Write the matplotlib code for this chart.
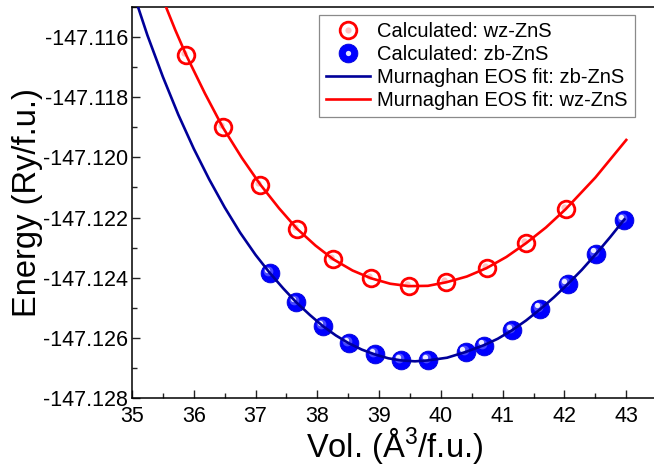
import numpy as np
import matplotlib
matplotlib.use('Agg')
import matplotlib.pyplot as plt
from matplotlib import transforms
from matplotlib.lines import Line2D
from matplotlib.ticker import MultipleLocator, FormatStrFormatter
from matplotlib.legend_handler import HandlerTuple

plt.rcParams['font.family'] = ['Liberation Sans', 'DejaVu Sans']
plt.rcParams['mathtext.fontset'] = 'custom'
plt.rcParams['mathtext.rm'] = 'Liberation Sans'
plt.rcParams['mathtext.it'] = 'Liberation Sans:italic'
plt.rcParams['axes.unicode_minus'] = False

# calculated points
wz_vol = [35.88, 36.47, 37.08, 37.67, 38.26, 38.87, 39.48, 40.09, 40.74, 41.38, 42.02]
wz_E = [-147.11661, -147.11900, -147.12091, -147.12237, -147.12339, -147.12402,
        -147.12428, -147.12415, -147.12368, -147.12285, -147.12172]

zb_vol = [37.23, 37.66, 38.09, 38.51, 38.93, 39.36, 39.79, 40.40, 40.70, 41.15,
          41.60, 42.05, 42.51, 42.97]
zb_E = [-147.12384, -147.12482, -147.12561, -147.12618, -147.12655, -147.12675,
        -147.12675, -147.12647, -147.12626, -147.12573, -147.12503, -147.12421,
        -147.12320, -147.12208]

# Murnaghan EOS fit curves
wz_fit_vol = [35.5, 35.7, 35.88, 36.18, 36.47, 36.78, 37.08, 37.38, 37.67, 37.97,
              38.26, 38.57, 38.87, 39.18, 39.48, 39.79, 40.09, 40.42, 40.74, 41.06,
              41.38, 41.70, 42.02, 42.5, 43.0]
wz_fit_E = [-147.11474, -147.11576, -147.11661, -147.11787, -147.11900, -147.12002,
            -147.12091, -147.12169, -147.12237, -147.12293, -147.12339, -147.12376,
            -147.12402, -147.12420, -147.12428, -147.12427, -147.12415, -147.12396,
            -147.12368, -147.12331, -147.12285, -147.12233, -147.12172, -147.12067,
            -147.11942]

zb_fit_vol = [35.0, 35.25, 35.5, 35.75, 36.0, 36.25, 36.5, 36.75, 37.0, 37.23,
              37.45, 37.66, 37.88, 38.09, 38.30, 38.51, 38.72, 38.93, 39.15, 39.36,
              39.58, 39.79, 40.10, 40.40, 40.70, 40.92, 41.15, 41.38, 41.60, 41.83,
              42.05, 42.28, 42.51, 42.74, 42.97]
zb_fit_E = [-147.11439, -147.11594, -147.11732, -147.11858, -147.11971, -147.12073,
            -147.12166, -147.12250, -147.12324, -147.12384, -147.12436, -147.12482,
            -147.12524, -147.12561, -147.12592, -147.12618, -147.12639, -147.12655,
            -147.12668, -147.12675, -147.12678, -147.12675, -147.12666, -147.12647,
            -147.12624, -147.12603, -147.12575, -147.12542, -147.12506, -147.12465,
            -147.12422, -147.12374, -147.12321, -147.12265, -147.12206]

fig = plt.figure(figsize=(6.54, 4.66), dpi=100)
ax = fig.add_axes([0.2018, 0.1459, 0.803, 0.839])

hl = transforms.offset_copy(ax.transData, fig=fig, x=-2.3, y=2.3, units='points')
hl2 = transforms.offset_copy(ax.transData, fig=fig, x=-1.5, y=1.5, units='points')

# markers
ax.plot(wz_vol, wz_E, ls='none', marker='o', ms=12, mfc='white', mec='#ff0000', mew=2.0, zorder=2)
ax.plot(wz_vol, wz_E, ls='none', marker='o', ms=4.5, mfc='#ffb4b4', mec='none', alpha=0.8,
        transform=hl2, zorder=2.1)
ax.plot(zb_vol, zb_E, ls='none', marker='o', ms=13.5, mfc='#0000ff', mec='#0000d8', mew=0.6, zorder=2)
ax.plot(zb_vol, zb_E, ls='none', marker='o', ms=7, mfc='#7a7aff', mec='none', alpha=0.6,
        transform=hl2, zorder=2.1)
ax.plot(zb_vol, zb_E, ls='none', marker='o', ms=3.8, mfc='white', mec='none', alpha=0.9,
        transform=hl, zorder=2.2)

# fit lines drawn over the markers
ax.plot(zb_fit_vol, zb_fit_E, color='#000099', lw=1.9, zorder=3)
ax.plot(wz_fit_vol, wz_fit_E, color='#ff0000', lw=1.9, zorder=3)

ax.set_xlim(35, 43.5)
ax.set_ylim(-147.128, -147.115)
ax.xaxis.set_major_locator(MultipleLocator(1))
ax.xaxis.set_minor_locator(MultipleLocator(0.5))
ax.yaxis.set_major_locator(MultipleLocator(0.002))
ax.yaxis.set_minor_locator(MultipleLocator(0.001))
ax.yaxis.set_major_formatter(FormatStrFormatter('%.3f'))
ax.tick_params(which='both', direction='in', top=False, right=False, width=1.0, color='#222222')
ax.tick_params(which='major', length=6)
ax.tick_params(which='minor', length=3.5)
ax.tick_params(axis='x', labelsize=15.5, pad=6)
ax.tick_params(axis='y', labelsize=15.5, pad=3)
for s in ax.spines.values():
    s.set_linewidth(1.1)

ax.set_xlabel('Vol. (Å$^3$/f.u.)', fontsize=23.5)
ax.set_ylabel('Energy (Ry/f.u.)', fontsize=23.5)
ax.xaxis.set_label_coords(0.5, -0.07)
ax.yaxis.set_label_coords(-0.17, 0.5)

# legend
h_wz = (Line2D([], [], ls='none', marker='o', ms=12, mfc='white', mec='#ff0000', mew=2.0),
        Line2D([], [], ls='none', marker='o', ms=4.5, mfc='#ffb4b4', mec='none', alpha=0.8))
h_zb = (Line2D([], [], ls='none', marker='o', ms=13.5, mfc='#0000ff', mec='#0000d8', mew=0.6),
        Line2D([], [], ls='none', marker='o', ms=3.8, mfc='white', mec='none', alpha=0.9))
h_zbfit = Line2D([], [], color='#000099', lw=1.9)
h_wzfit = Line2D([], [], color='#ff0000', lw=1.9)
leg = ax.legend([h_wz, h_zb, h_zbfit, h_wzfit],
                ['Calculated: wz-ZnS', 'Calculated: zb-ZnS',
                 'Murnaghan EOS fit: zb-ZnS', 'Murnaghan EOS fit: wz-ZnS'],
                handler_map={tuple: HandlerTuple(ndivide=1, pad=0)},
                loc='upper right', bbox_to_anchor=(635 / 654, 1 - 15 / 466),
                bbox_transform=fig.transFigure, borderaxespad=0,
                fontsize=14.5, fancybox=False, framealpha=1, edgecolor='#8a8a8a',
                borderpad=0.35, labelspacing=0.2, handlelength=2.2, handletextpad=0.35,
                numpoints=1)
leg.get_frame().set_linewidth(0.9)

fig.savefig('out.png', dpi=100)
